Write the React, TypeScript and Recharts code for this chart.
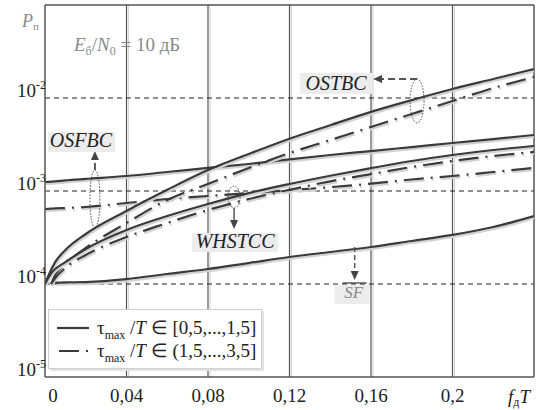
import { LineChart, Line, XAxis, YAxis, ReferenceLine, ReferenceDot, Legend } from 'recharts';

// f_д T grid used by the curves
const fdT = [0, 0.003, 0.005, 0.01, 0.02, 0.04, 0.06, 0.08, 0.1, 0.12, 0.14, 0.16, 0.18, 0.2, 0.22, 0.24];

const ostbcSolid = [1e-4, 1.42e-4, 1.72e-4, 2.32e-4, 3.45e-4, 6.1e-4, 1.03e-3, 1.68e-3, 2.5e-3, 3.65e-3, 5.1e-3, 7.1e-3, 9.5e-3, 1.25e-2, 1.6e-2, 2.05e-2];
const ostbcDash = [null, 1e-4, 1.25e-4, 1.64e-4, 2.44e-4, 4.53e-4, 8.0e-4, 1.19e-3, 1.77e-3, 2.56e-3, 3.53e-3, 4.88e-3, 6.73e-3, 9.3e-3, 1.28e-2, 1.68e-2];
const whstccSolid = [1e-4, 1.3e-4, 1.45e-4, 1.72e-4, 2.38e-4, 3.81e-4, 5.38e-4, 7.25e-4, 9.5e-4, 1.19e-3, 1.46e-3, 1.76e-3, 2.1e-3, 2.44e-3, 2.76e-3, 3.05e-3];
const whstccDash = [null, 1e-4, 1.16e-4, 1.49e-4, 2.05e-4, 3.2e-4, 4.53e-4, 6.25e-4, 8.2e-4, 1.03e-3, 1.27e-3, 1.52e-3, 1.81e-3, 2.1e-3, 2.38e-3, 2.63e-3];
const osfbcSolid = [1.25e-3, 1.26e-3, 1.27e-3, 1.3e-3, 1.35e-3, 1.45e-3, 1.6e-3, 1.77e-3, 1.95e-3, 2.19e-3, 2.44e-3, 2.69e-3, 2.97e-3, 3.28e-3, 3.62e-3, 4.0e-3];
const osfbcDash = [6.4e-4, 6.45e-4, 6.5e-4, 6.56e-4, 6.73e-4, 7.43e-4, 8.2e-4, 8.83e-4, 9.5e-4, 1.02e-3, 1.1e-3, 1.2e-3, 1.33e-3, 1.45e-3, 1.6e-3, 1.77e-3];
const sf = [null, null, 1.03e-4, 1.04e-4, 1.05e-4, 1.13e-4, 1.28e-4, 1.45e-4, 1.68e-4, 1.95e-4, 2.21e-4, 2.5e-4, 2.9e-4, 3.37e-4, 4.1e-4, 5.38e-4];

const xTicks = [0, 0.04, 0.08, 0.12, 0.16, 0.2];
const yTicks = [1e-5, 1e-4, 1e-3, 1e-2];
const yDashed = [1e-4, 1e-3, 1e-2];

const data = fdT.map((x, i) => ({
  x,
  ostbcSolid: ostbcSolid[i],
  ostbcDash: ostbcDash[i],
  whstccSolid: whstccSolid[i],
  whstccDash: whstccDash[i],
  osfbcSolid: osfbcSolid[i],
  osfbcDash: osfbcDash[i],
  sf: sf[i],
}));

const FONT = "'Liberation Serif', 'Times New Roman', Times, serif";
const INK = '#3a3a3a';
const DASHDOT = '20 7 2 7';

const XTick = ({ x, y, payload }: any) => (
  <text x={x + (payload.value === 0 ? 8 : 0)} y={y + 17} textAnchor="middle" style={{ fontFamily: FONT }} fontSize={19} fill="#222">
    {String(payload.value).replace('.', ',')}
  </text>
);

const YTick = ({ x, y, payload }: any) => (
  <text x={x + 9} y={y - 1} textAnchor="end" style={{ fontFamily: FONT }} fontSize={19} fill="#222">
    10
    <tspan dy={-8} fontSize={12}>{Math.round(Math.log10(payload.value))}</tspan>
  </text>
);

const yLabel = ({ viewBox }: any) => (
  <g style={{ fontFamily: FONT }} fill="#8a8a8a">
    <text x={viewBox.x + 22} y={viewBox.y + 22} fontSize={18} fontStyle="italic">
      P<tspan dy={3} fontSize={11} fontStyle="normal">п</tspan>
    </text>
    <text x={viewBox.x + 74} y={viewBox.y + 46} fontSize={19}>
      <tspan fontStyle="italic">E</tspan>
      <tspan dy={4} fontSize={12}>б</tspan>
      <tspan dy={-4}>/</tspan>
      <tspan fontStyle="italic">N</tspan>
      <tspan dy={4} fontSize={12}>0</tspan>
      <tspan dy={-4}> = 10 дБ</tspan>
    </text>
  </g>
);

const xLabel = ({ viewBox }: any) => (
  <text x={viewBox.x + viewBox.width - 26} y={viewBox.y + 26} style={{ fontFamily: FONT }} fontSize={19} fill="#222" fontStyle="italic">
    f<tspan dy={3} fontSize={12} fontStyle="normal">д</tspan>
    <tspan dy={-3}>T</tspan>
  </text>
);

const tagText = { style: { fontFamily: FONT }, fontSize: 20, fontStyle: 'italic' as const, fill: '#222' };

const ostbcShape = ({ cx, cy }: any) => (
  <g>
    <ellipse cx={cx} cy={cy} rx={7} ry={22} fill="none" stroke="#444" strokeWidth={1} strokeDasharray="1.5 1.5" />
    <line x1={cx} y1={cy - 22} x2={cx - 37} y2={cy - 22} stroke="#555" strokeWidth={2} strokeDasharray="7 4" />
    <polygon points={`${cx - 44},${cy - 22} ${cx - 35},${cy - 26} ${cx - 35},${cy - 18}`} fill="#444" />
    <rect x={cx - 117} y={cy - 28} width={72} height={21} fill="#ececec" />
    <text x={cx - 81} y={cy - 11} textAnchor="middle" {...tagText}>OSTBC</text>
  </g>
);

const osfbcShape = ({ cx, cy }: any) => (
  <g>
    <ellipse cx={cx} cy={cy} rx={5} ry={29} fill="none" stroke="#444" strokeWidth={1} strokeDasharray="1.5 1.5" />
    <line x1={cx} y1={cy - 29} x2={cx} y2={cy - 40} stroke="#555" strokeWidth={2} strokeDasharray="7 4" />
    <polygon points={`${cx},${cy - 48} ${cx - 4},${cy - 39} ${cx + 4},${cy - 39}`} fill="#444" />
    <rect x={cx - 47} y={cy - 67} width={67} height={20} fill="#ececec" />
    <text x={cx - 14} y={cy - 52} textAnchor="middle" {...tagText}>OSFBC</text>
  </g>
);

const whstccShape = ({ cx, cy }: any) => (
  <g>
    <ellipse cx={cx} cy={cy} rx={6} ry={11} fill="none" stroke="#444" strokeWidth={1} strokeDasharray="1.5 1.5" />
    <line x1={cx} y1={cy + 11} x2={cx} y2={cy + 24} stroke="#555" strokeWidth={1.5} />
    <polygon points={`${cx},${cy + 32} ${cx - 4},${cy + 23} ${cx + 4},${cy + 23}`} fill="#444" />
    <rect x={cx - 42} y={cy + 36} width={86} height={19} fill="#ececec" />
    <text x={cx + 1} y={cy + 51} textAnchor="middle" {...tagText}>WHSTCC</text>
  </g>
);

const sfShape = ({ cx, cy }: any) => (
  <g>
    <line x1={cx} y1={cy} x2={cx} y2={cy + 25} stroke="#555" strokeWidth={1.5} strokeDasharray="5 3" />
    <polygon points={`${cx},${cy + 33} ${cx - 4},${cy + 24} ${cx + 4},${cy + 24}`} fill="#444" />
    <rect x={cx - 20} y={cy + 38} width={35} height={19} fill="#ececec" />
    <line x1={cx - 12} y1={cy + 36} x2={cx + 12} y2={cy + 36} stroke="#333" strokeWidth={1.2} />
    <text x={cx - 1} y={cy + 51} textAnchor="middle" style={{ fontFamily: FONT }} fontSize={17} fontStyle="italic" fill="#8a8a8a">SF</text>
  </g>
);

const subStyle = { fontSize: 12, position: 'relative' as const, top: 5, lineHeight: 0 };

const legendContent = () => (
  <div style={{ background: '#fff', border: '1px solid #cfcfcf', boxShadow: '2px 2px 0 #e2e2e2', fontFamily: FONT, fontSize: 19, color: '#222', padding: '6px 5px 6px 6px', lineHeight: '23px', whiteSpace: 'nowrap' }}>
    <div style={{ display: 'flex', alignItems: 'center', height: 23 }}>
      <svg width={36} height={10} style={{ marginRight: 6 }}><line x1={2} y1={5} x2={34} y2={5} stroke={INK} strokeWidth={2.2} /></svg>
      <span>τ<span style={subStyle}>max</span> /<i>T</i> ∈ [0,5,...,1,5]</span>
    </div>
    <div style={{ display: 'flex', alignItems: 'center', height: 23 }}>
      <svg width={36} height={10} style={{ marginRight: 6 }}><line x1={4} y1={5} x2={34} y2={5} stroke={INK} strokeWidth={2.2} strokeDasharray="20 7 2 7" /></svg>
      <span>τ<span style={subStyle}>max</span> /<i>T</i> ∈ (1,5,...,3,5]</span>
    </div>
  </div>
);

export default function App() {
  return (
    <div style={{ position: 'absolute', left: 0, top: 0, width: 536, height: 410, background: '#fff', fontFamily: FONT }}>
      <style>{`.pl path { filter: drop-shadow(1.5px 2px 0 #d2d2d2); } .vg line { filter: drop-shadow(2px 0 0 #d6d6d6); }`}</style>
      <LineChart width={536} height={410} data={data} margin={{ top: 5, right: 2, left: 0, bottom: 0 }}>
        <XAxis
          dataKey="x"
          type="number"
          domain={[0, 0.24]}
          ticks={xTicks}
          allowDataOverflow
          height={33}
          tickLine={false}
          tick={<XTick />}
          stroke="#555"
          strokeWidth={1.5}
          label={xLabel}
        />
        <YAxis
          type="number"
          scale="log"
          domain={[1e-5, 1e-1]}
          ticks={yTicks}
          allowDataOverflow
          width={45}
          tickLine={false}
          tick={<YTick />}
          stroke="#555"
          strokeWidth={1.5}
          label={yLabel}
        />
        {xTicks.slice(1).map((v) => (
          <ReferenceLine key={'v' + v} x={v} stroke="#555" strokeWidth={1.2} className="vg" />
        ))}
        {yDashed.map((v) => (
          <ReferenceLine key={'h' + v} y={v} stroke="#222" strokeWidth={1} strokeDasharray="5 4" />
        ))}
        <ReferenceLine y={1e-1} stroke="#555" strokeWidth={1.5} />
        <ReferenceLine x={0.24} stroke="#555" strokeWidth={1.5} />

        <Line type="monotone" dataKey="osfbcSolid" stroke={INK} strokeWidth={2.2} dot={false} isAnimationActive={false} className="pl" />
        <Line type="monotone" dataKey="osfbcDash" stroke={INK} strokeWidth={2.2} strokeDasharray={DASHDOT} dot={false} isAnimationActive={false} className="pl" />
        <Line type="monotone" dataKey="ostbcSolid" stroke={INK} strokeWidth={2.2} dot={false} isAnimationActive={false} className="pl" />
        <Line type="monotone" dataKey="ostbcDash" stroke={INK} strokeWidth={2.2} strokeDasharray={DASHDOT} dot={false} isAnimationActive={false} className="pl" />
        <Line type="monotone" dataKey="whstccSolid" stroke={INK} strokeWidth={2.2} dot={false} isAnimationActive={false} className="pl" />
        <Line type="monotone" dataKey="whstccDash" stroke={INK} strokeWidth={2.2} strokeDasharray={DASHDOT} dot={false} isAnimationActive={false} className="pl" />
        <Line type="monotone" dataKey="sf" stroke={INK} strokeWidth={2.2} dot={false} isAnimationActive={false} className="pl" />

        <ReferenceDot x={0.1826} y={9.3e-3} r={0} shape={ostbcShape} />
        <ReferenceDot x={0.0245} y={8.2e-4} r={0} shape={osfbcShape} />
        <ReferenceDot x={0.0928} y={8.6e-4} r={0} shape={whstccShape} />
        <ReferenceDot x={0.152} y={2.5e-4} r={0} shape={sfShape} />

        <Legend
          layout="vertical"
          align="center"
          verticalAlign="middle"
          content={legendContent}
          wrapperStyle={{ left: 48, top: 309, width: 'auto', height: 'auto' }}
        />
      </LineChart>
    </div>
  );
}
